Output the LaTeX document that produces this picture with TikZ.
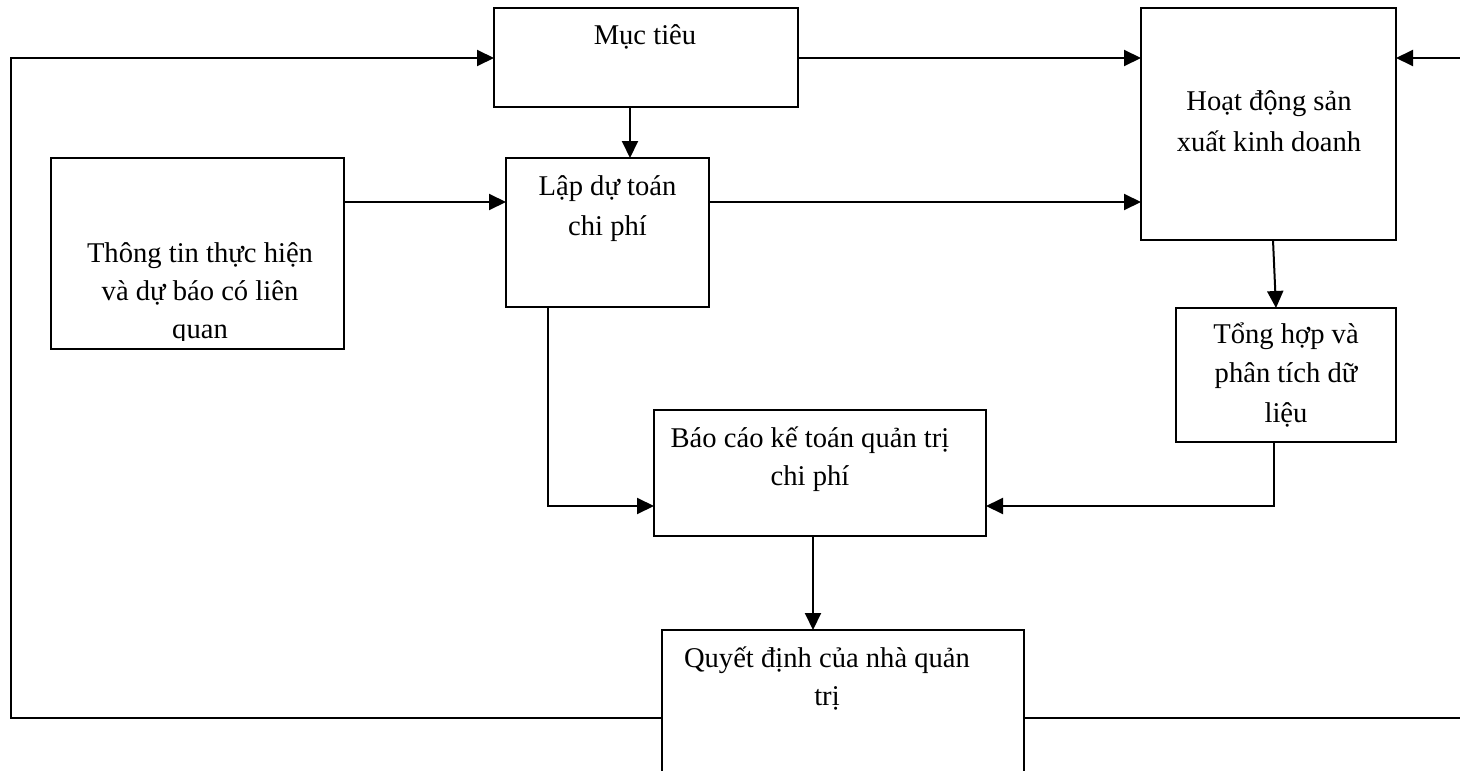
\documentclass[tikz,border=0pt]{standalone}
\usepackage{fontspec}
\setmainfont{Liberation Serif}
\usetikzlibrary{arrows.meta}
% centred multi-line label whose base anchor is the first baseline
\newcommand\boxlines[2]{\parbox[t]{420pt}{\centering\fontsize{28.6}{#1}\selectfont #2}}
\begin{document}
\begin{tikzpicture}[x=1pt,y=-1pt,
  stepbox/.style={draw=black, line width=2pt, rectangle, inner sep=0pt, outer sep=0pt},
  lbl/.style={inner sep=0pt, outer sep=0pt, anchor=base},
  link/.style={line width=2pt, -{Triangle[length=17pt,width=16pt]}},
  plain/.style={line width=2pt}]
\useasboundingbox (0,0) rectangle (1460,771);
\clip (0,0) rectangle (1460,771);

% boxes
\node[stepbox, minimum width=304pt, minimum height=99pt]  (mt) at (646,57.5) {};
\node[stepbox, minimum width=203pt, minimum height=149pt] (ld) at (607.5,232.5) {};
\node[stepbox, minimum width=293pt, minimum height=191pt] (tt) at (197.5,253.5) {};
\node[stepbox, minimum width=255pt, minimum height=232pt] (hd) at (1268.5,124) {};
\node[stepbox, minimum width=220pt, minimum height=134pt] (th) at (1286,375) {};
\node[stepbox, minimum width=332pt, minimum height=126pt] (bc) at (820,473) {};
\node[stepbox, minimum width=362pt, minimum height=170pt] (qd) at (843,715) {};

% labels
\node[lbl] (mtT) at (645,45) {\boxlines{39}{Mục tiêu}};
\node[lbl] (ldT) at (607.5,195) {\boxlines{40}{Lập dự toán\\chi phí}};
\begin{scope}
  \clip (51,158) rectangle (344,340);
  \node[lbl] (ttT) at (200,262) {\boxlines{38}{Thông tin thực hiện\\và dự báo có liên\\quan}};
\end{scope}
\node[lbl] (hdT) at (1269,110) {\boxlines{41.5}{Hoạt động sản\\xuất kinh doanh}};
\node[lbl] (thT) at (1286,343) {\boxlines{39.5}{Tổng hợp và\\phân tích dữ\\liệu}};
\node[lbl] (bcT) at (810,447) {\boxlines{38.5}{Báo cáo kế toán quản trị\\chi phí}};
\node[lbl] (qdT) at (827,667) {\boxlines{38.5}{Quyết định của nhà quản\\trị}};

% outer loop points
\coordinate (lb) at (11,718);
\coordinate (lt) at (11,58);
\coordinate (rb) at (1475,718);
\coordinate (rt) at (1475,58);

% connectors
\draw[link] (qd.west |- lb) -- (lb) -- (lt) -- (mt.west |- lt);
\draw[link] (qd.east |- rb) -- (rb) -- (rt) -- (hd.east |- rt);
\draw[link] (mt.east |- lt) -- (hd.west |- lt);
\draw[link] (mt.south -| 630,0) -- (ld.north -| 630,0);
\draw[link] (tt.east |- 0,202) -- (ld.west |- 0,202);
\draw[link] (ld.east |- 0,202) -- (hd.west |- 0,202);
\draw[link] ([xshift=4.5pt]hd.south) -- ([xshift=-10pt]th.north);
\draw[link] (ld.south -| 548,0) -- (548,506) -- (bc.west |- 0,506);
\draw[link] (th.south -| 1274,0) -- (1274,506) -- (bc.east |- 0,506);
\draw[link] (bc.south -| 813,0) -- (qd.north -| 813,0);
\end{tikzpicture}
\end{document}
